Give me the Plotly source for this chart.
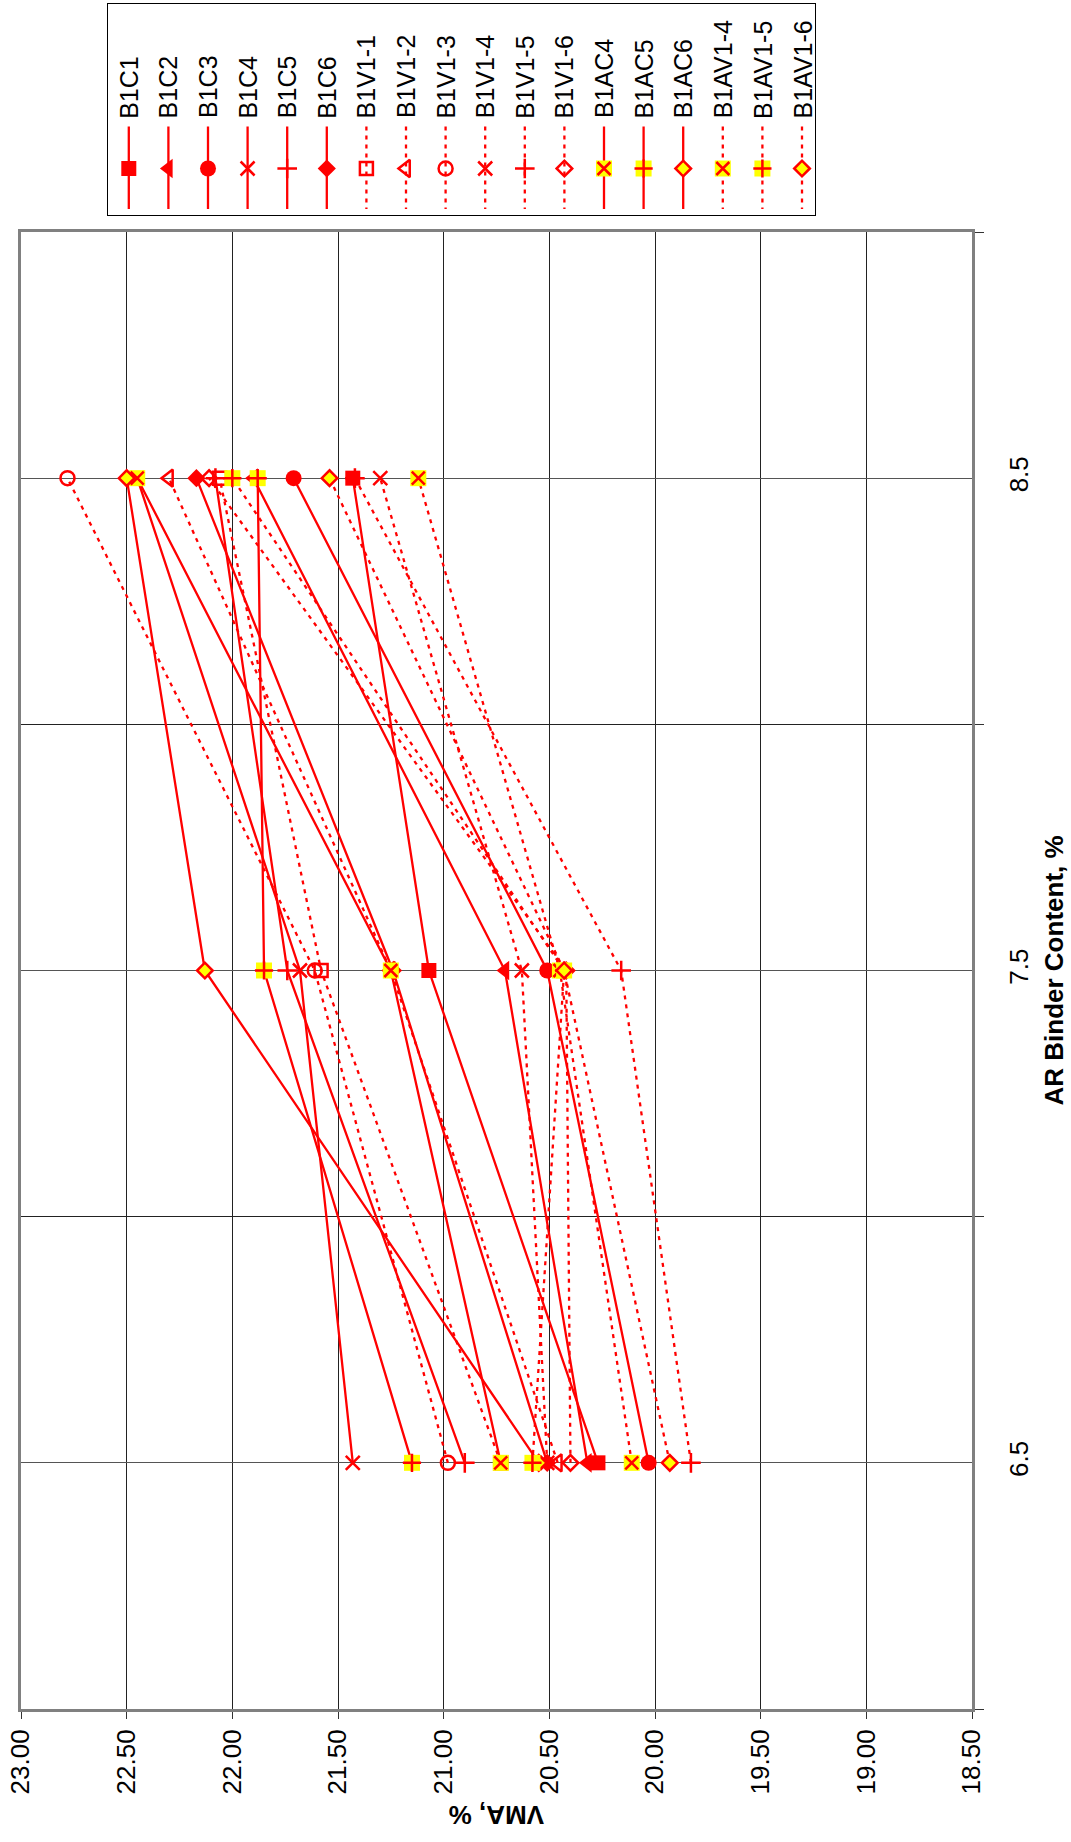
import plotly.graph_objects as go

# ---------------- data ----------------
binder_content = [6.5, 7.5, 8.5]

series_names = ["B1C1", "B1C2", "B1C3", "B1C4", "B1C5", "B1C6",
                "B1V1-1", "B1V1-2", "B1V1-3", "B1V1-4", "B1V1-5", "B1V1-6",
                "B1AC4", "B1AC5", "B1AC6", "B1AV1-4", "B1AV1-5", "B1AV1-6"]

vma_B1C1 = [20.27, 21.07, 21.43]
vma_B1C2 = [20.32, 20.71, 21.90]
vma_B1C3 = [20.03, 20.51, 21.71]
vma_B1C4 = [21.43, 21.68, 22.45]
vma_B1C5 = [20.90, 21.74, 22.08]
vma_B1C6 = [20.51, 21.24, 22.17]
vma_B1V1_1 = [20.73, 21.58, 22.06]
vma_B1V1_2 = [20.46, 21.25, 22.30]
vma_B1V1_3 = [20.98, 21.61, 22.78]
vma_B1V1_4 = [20.51, 20.63, 21.30]
vma_B1V1_5 = [19.83, 20.16, 21.42]
vma_B1V1_6 = [20.40, 20.42, 22.11]
vma_B1AC4 = [20.73, 21.25, 22.45]
vma_B1AC5 = [21.15, 21.85, 21.88]
vma_B1AC6 = [20.55, 22.13, 22.50]
vma_B1AV1_4 = [20.11, 20.45, 21.12]
vma_B1AV1_5 = [20.58, 20.43, 22.00]
vma_B1AV1_6 = [19.93, 20.43, 21.54]

vma_values = [vma_B1C1, vma_B1C2, vma_B1C3, vma_B1C4, vma_B1C5, vma_B1C6,
              vma_B1V1_1, vma_B1V1_2, vma_B1V1_3, vma_B1V1_4, vma_B1V1_5, vma_B1V1_6,
              vma_B1AC4, vma_B1AC5, vma_B1AC6, vma_B1AV1_4, vma_B1AV1_5, vma_B1AV1_6]

vma_ticks = [23.0, 22.5, 22.0, 21.5, 21.0, 20.5, 20.0, 19.5, 19.0, 18.5]
binder_ticks = [6.5, 7.5, 8.5]

# ---------------- styles ----------------
RED = "#FF0000"
YELLOW = "#FFFF00"
FONT = "Liberation Sans, Arial, sans-serif"
DOT = "4px,5px"
LW = 2.3
XS = 14  # size of x / cross markers

line_dash = ["solid"] * 6 + [DOT] * 6 + ["solid"] * 3 + [DOT] * 3
marker_kind = ["square", "tri", "circle", "x", "cross", "diamond",
               "square-open", "tri-open", "circle-open", "x", "cross", "diamond-open",
               "yx", "ycross", "ydiamond", "yx", "ycross", "ydiamond"]

W, H = 1071, 1842
PL, PR, PT, PB = 21, 972, 232, 1709          # plot area (px)
LG_L, LG_R, LG_T, LG_B = 108, 815, 3.5, 215  # legend box (px)

fig = go.Figure()


def marker_spec(kind):
    base = dict(color=RED, size=14, line=dict(color=RED, width=0))
    if kind == "square":
        base.update(symbol="square", size=15)
    elif kind == "tri":
        base.update(symbol="triangle-left", size=17)
    elif kind == "circle":
        base.update(symbol="circle", size=16)
    elif kind == "x":
        base.update(symbol="x-thin", size=XS, line=dict(color=RED, width=2.5))
    elif kind == "cross":
        base.update(symbol="cross-thin", size=XS, line=dict(color=RED, width=2.5))
    elif kind == "diamond":
        base.update(symbol="diamond", size=14)
    elif kind == "square-open":
        base.update(symbol="square-open", size=13, line=dict(color=RED, width=2.5))
    elif kind == "tri-open":
        base.update(symbol="triangle-left-open", size=15, line=dict(color=RED, width=2.5))
    elif kind == "circle-open":
        base.update(symbol="circle-open", size=14, line=dict(color=RED, width=2.5))
    elif kind == "diamond-open":
        base.update(symbol="diamond-open", size=12, line=dict(color=RED, width=2.5))
    elif kind == "ydiamond":
        base.update(symbol="diamond", size=12, color=YELLOW, line=dict(color=RED, width=2.5))
    return base


def add_series(x, y, dash, kind, xa, ya, mode_line=True):
    ln = dict(color=RED, width=LW, dash=dash)
    mode = "lines+markers" if mode_line else "markers"
    if kind in ("yx", "ycross"):
        fig.add_trace(go.Scatter(x=x, y=y, mode=mode, line=ln, xaxis=xa, yaxis=ya,
                                 showlegend=False, hoverinfo="skip",
                                 marker=dict(symbol="square", size=16, color=YELLOW,
                                             line=dict(width=0))))
        sym = "x-thin" if kind == "yx" else "cross-thin"
        fig.add_trace(go.Scatter(x=x, y=y, mode="markers", xaxis=xa, yaxis=ya,
                                 showlegend=False, hoverinfo="skip",
                                 marker=dict(symbol=sym, size=XS - 1, color=RED,
                                             line=dict(color=RED, width=2.5))))
    else:
        fig.add_trace(go.Scatter(x=x, y=y, mode=mode, line=ln, xaxis=xa, yaxis=ya,
                                 showlegend=False, hoverinfo="skip",
                                 marker=marker_spec(kind)))


# chart series
for name, vals, dash, kind in zip(series_names, vma_values, line_dash, marker_kind):
    add_series(vals, binder_content, dash, kind, "x", "y")

# legend (drawn in its own small axes, rotated like the chart)
col_w = (802 - 128.8) / 17.0
for i, (name, dash, kind) in enumerate(zip(series_names, line_dash, marker_kind)):
    cx = 128.8 + i * col_w
    fig.add_trace(go.Scatter(x=[cx, cx], y=[126.5, 209], mode="lines",
                             line=dict(color=RED, width=LW, dash=dash),
                             xaxis="x2", yaxis="y2", showlegend=False, hoverinfo="skip"))
    add_series([cx], [168.5], dash, kind, "x2", "y2", mode_line=False)
    fig.add_annotation(x=cx, y=120.5, xref="x2", yref="y2", text=name, textangle=-90,
                       showarrow=False, xanchor="center", yanchor="bottom",
                       font=dict(family=FONT, size=25, color="black"))

# axis titles (rotated like the whole chart)
fig.add_annotation(x=(PL + PR) / 2 / W, y=1 - 1815 / H, xref="paper", yref="paper",
                   text="<b>VMA, %</b>", textangle=180, showarrow=False,
                   xanchor="center", yanchor="middle",
                   font=dict(family=FONT, size=26, color="black"))
fig.add_annotation(x=1053 / W, y=1 - ((PT + PB) / 2) / H, xref="paper", yref="paper",
                   text="<b>AR Binder Content, %</b>", textangle=-90, showarrow=False,
                   xanchor="center", yanchor="middle",
                   font=dict(family=FONT, size=26, color="black"))

fig.update_layout(
    width=W, height=H, autosize=False,
    margin=dict(l=0, r=0, t=0, b=0, pad=0),
    paper_bgcolor="white", plot_bgcolor="white",
    showlegend=False,
    font=dict(family=FONT, color="black"),
    xaxis=dict(domain=[PL / W, PR / W], range=[23.0, 18.5], autorange=False,
               automargin=False,
               tickmode="array", tickvals=vma_ticks,
               ticktext=["%.2f" % v for v in vma_ticks],
               tickangle=-90, ticks="outside", ticklen=7, tickcolor="#333",
               tickfont=dict(family=FONT, size=26, color="black"),
               showgrid=True, gridcolor="#222", gridwidth=1, zeroline=False,
               showline=True, linecolor="#808080", linewidth=3, mirror=True,
               anchor="y"),
    yaxis=dict(domain=[1 - PB / H, 1 - PT / H], range=[6, 9], autorange=False,
               automargin=False,
               side="right", tickmode="array", tickvals=binder_ticks,
               ticktext=[str(v) for v in binder_ticks],
               tickangle=-90, ticks="", ticklabelstandoff=22,
               tickfont=dict(family=FONT, size=26, color="black"),
               showgrid=True, gridcolor="#555", gridwidth=1, zeroline=False,
               minor=dict(tickmode="array", tickvals=[6, 7, 8, 9], ticks="outside",
                          ticklen=9, tickcolor="#333", showgrid=True,
                          gridcolor="#222", gridwidth=1),
               showline=True, linecolor="#808080", linewidth=3, mirror=True,
               anchor="x"),
    xaxis2=dict(domain=[LG_L / W, LG_R / W], range=[LG_L, LG_R], autorange=False,
                automargin=False,
                showgrid=False, zeroline=False, showticklabels=False, ticks="",
                showline=True, linecolor="black", linewidth=1, mirror=True,
                anchor="y2", fixedrange=True),
    yaxis2=dict(domain=[1 - LG_B / H, 1 - LG_T / H], range=[LG_B, LG_T], autorange=False,
                automargin=False,
                showgrid=False, zeroline=False, showticklabels=False, ticks="",
                showline=True, linecolor="black", linewidth=1, mirror=True,
                anchor="x2", fixedrange=True),
)

fig.write_html("out.html",
               config={"displayModeBar": False},
               post_script="document.body.style.margin='0';"
                           "document.body.style.overflow='hidden';")
